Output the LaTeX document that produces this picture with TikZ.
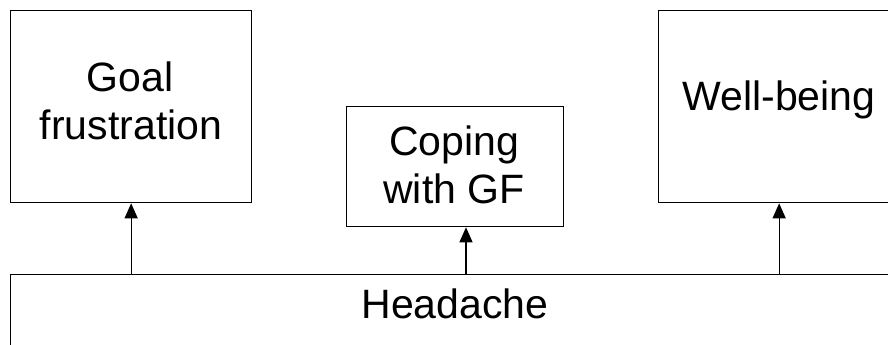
\documentclass[tikz,border=0pt]{standalone}
\usepackage{fontspec}
\setmainfont{Liberation Sans}
\usetikzlibrary{arrows.meta}
\tikzset{
  box/.style={draw, line width=1.3pt, inner sep=0pt, anchor=north west},
  txt/.style={inner sep=0pt, anchor=base, font=\fontsize{41}{47}\selectfont},
  link/.style={line width=1.3pt, -{Triangle[width=13pt,length=15pt]}}
}
\begin{document}
\begin{tikzpicture}[x=1pt,y=-1pt]
\useasboundingbox (0,0) rectangle (888,345);
\begin{scope}
\clip (0,0) rectangle (888,345);
\node[box, minimum width=241pt, minimum height=192pt] (goal) at (10,10) {};
\node[box, minimum width=217pt, minimum height=120pt] (cope) at (346,106) {};
\node[box, minimum width=241pt, minimum height=192pt] (well) at (658,10) {};
\node[box, minimum width=890pt, minimum height=120pt] (head) at (10,274) {};
\end{scope}
\coordinate (copein) at ([xshift=120pt]cope.south west);
\node[txt] (goalt1) at (130,92) {Goal};
\node[txt] (goalt2) at (131,139) {frustration};
\node[txt] (copet1) at (454,155) {Coping};
\node[txt] (copet2) at (454,203) {with GF};
\node[txt] (wellt) at (779,110) {Well-being};
\node[txt] (headt) at (455,318) {Headache};
\draw[link] (head.north west -| goal.south) -- (goal.south);
\draw[link] (head.north west -| copein) -- (copein);
\draw[link] (head.north west -| well.south) -- (well.south);
\end{tikzpicture}
\end{document}
